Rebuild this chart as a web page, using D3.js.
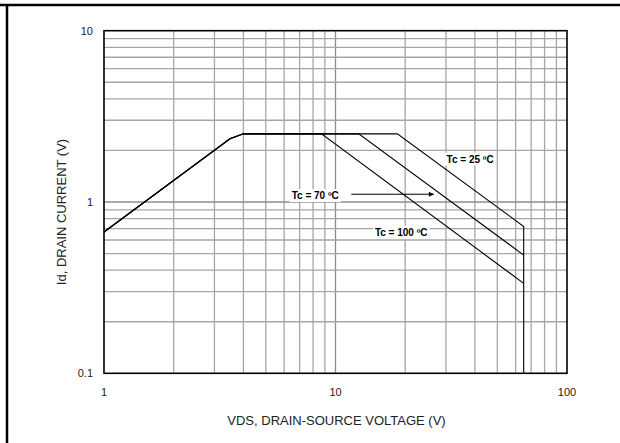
<!DOCTYPE html>
<html><head><meta charset="utf-8">
<script src="https://cdn.jsdelivr.net/npm/d3@7"></script>
<style>html,body{margin:0;padding:0;background:#fff}svg{display:block}</style>
</head><body>
<svg id="c" width="620" height="443"></svg>
<script>
// ---- data ----
const xTickValues = [1, 10, 100];
const xTickLabels = ["1", "10", "100"];
const yTickValues = [0.1, 1, 10];
const yTickLabels = ["0.1", "1", "10"];
const seriesNames = ["Tc = 25 ºC", "Tc = 70 ºC", "Tc = 100 ºC"];
const vds25 = [1, 3.5, 4, 18.5, 65, 65];
const id25  = [0.668, 2.34, 2.5, 2.5, 0.72, 0.1];
const vds70 = [1, 3.5, 4, 12.6, 65];
const id70  = [0.668, 2.34, 2.5, 2.5, 0.49];
const vds100 = [1, 3.5, 4, 8.7, 65];
const id100  = [0.668, 2.34, 2.5, 2.5, 0.335];
const labelVds = [30.2, 6.47, 14.8];
const labelId  = [1.78, 1.09, 0.666];
const arrowVds = [11.7, 26.6];
const arrowId  = [1.11, 1.11];
const xTitle = "VDS, DRAIN-SOURCE VOLTAGE (V)";
const yTitle = "Id, DRAIN CURRENT (V)";

// ---- drawing ----
const svg = d3.select("#c");
const font = "'Liberation Sans', Arial, sans-serif";
const L = 104, R = 567, T = 30.7, B = 373.3;
const x = d3.scaleLog().domain([1, 100]).range([L, R]);
const y = d3.scaleLog().domain([0.1, 10]).range([B, T]);

// outer frame (top + left)
svg.append("line").attr("x1", 0).attr("x2", 620).attr("y1", 5).attr("y2", 5)
  .attr("stroke", "#000").attr("stroke-width", 2.5);
svg.append("line").attr("x1", 7).attr("x2", 7).attr("y1", 4).attr("y2", 443)
  .attr("stroke", "#000").attr("stroke-width", 2.5);

// grid
const g = svg.append("g");
x.ticks().filter(v => v > 1 && v < 100).forEach(v => {
  g.append("line").attr("x1", x(v)).attr("x2", x(v)).attr("y1", T).attr("y2", B)
    .attr("stroke", v === 10 ? "#8c8c8c" : "#a6a6a6").attr("stroke-width", 1.3);
});
y.ticks().filter(v => v > 0.1 && v < 10).forEach(v => {
  g.append("line").attr("x1", L).attr("x2", R).attr("y1", y(v)).attr("y2", y(v))
    .attr("stroke", Math.abs(v - 1) < 1e-9 ? "#8c8c8c" : "#a6a6a6").attr("stroke-width", 1.3);
});

// label backgrounds
const labG = svg.append("g");
seriesNames.forEach((n, i) => {
  const t = labG.append("text").attr("x", x(labelVds[i])).attr("y", y(labelId[i]))
    .attr("dy", "0.35em").attr("font-family", font).attr("font-weight", "bold")
    .attr("font-size", 10).attr("fill", "#000").text(n);
  const bb = t.node().getBBox();
  labG.insert("rect", "text").attr("x", bb.x - 2).attr("y", bb.y - 1)
    .attr("width", bb.width + 4).attr("height", bb.height + 2).attr("fill", "#fff");
});
labG.selectAll("text").remove();

// plot border
svg.append("rect").attr("x", L).attr("y", T).attr("width", R - L).attr("height", B - T)
  .attr("fill", "none").attr("stroke", "#000").attr("stroke-width", 1.6);

// curves
const line = d3.line().x(d => x(d[0])).y(d => y(d[1]));
[[vds25, id25], [vds70, id70], [vds100, id100]].forEach(([vx, vy]) => {
  svg.append("path").datum(vx.map((v, i) => [v, vy[i]])).attr("d", line)
    .attr("fill", "none").attr("stroke", "#000").attr("stroke-width", 1.1);
});

// labels
seriesNames.forEach((n, i) => {
  svg.append("text").attr("x", x(labelVds[i])).attr("y", y(labelId[i]))
    .attr("dy", "0.35em").attr("font-family", font).attr("font-weight", "bold")
    .attr("font-size", 10).attr("fill", "#000").text(n);
});

// arrow
svg.append("defs").append("marker").attr("id", "ah").attr("viewBox", "0 0 10 10")
  .attr("refX", 10).attr("refY", 5).attr("markerWidth", 9).attr("markerHeight", 5)
  .attr("markerUnits", "userSpaceOnUse").attr("orient", "auto")
  .append("path").attr("d", "M0,0L10,5L0,10Z").attr("fill", "#000");
svg.append("line").attr("x1", x(arrowVds[0])).attr("x2", x(arrowVds[1]))
  .attr("y1", y(arrowId[0])).attr("y2", y(arrowId[1]))
  .attr("stroke", "#000").attr("stroke-width", 1).attr("marker-end", "url(#ah)");

// tick labels
xTickValues.forEach((v, i) => {
  svg.append("text").attr("x", x(v)).attr("y", 396).attr("text-anchor", "middle")
    .attr("font-family", font).attr("font-size", 11).attr("fill", "#222").text(xTickLabels[i]);
});
yTickValues.forEach((v, i) => {
  svg.append("text").attr("x", 93).attr("y", y(v)).attr("dy", "0.35em").attr("text-anchor", "end")
    .attr("font-family", font).attr("font-size", 11).attr("fill", "#222").text(yTickLabels[i]);
});

// titles
svg.append("text").attr("x", (L + R) / 2 + 1).attr("y", 425).attr("text-anchor", "middle")
  .attr("font-family", font).attr("font-size", 13).attr("fill", "#222").text(xTitle);
svg.append("text").attr("transform", `translate(66,${(T + B) / 2 + 10}) rotate(-90)`)
  .attr("text-anchor", "middle").attr("font-family", font).attr("font-size", 13)
  .attr("fill", "#222").text(yTitle);
</script>
</body></html>
